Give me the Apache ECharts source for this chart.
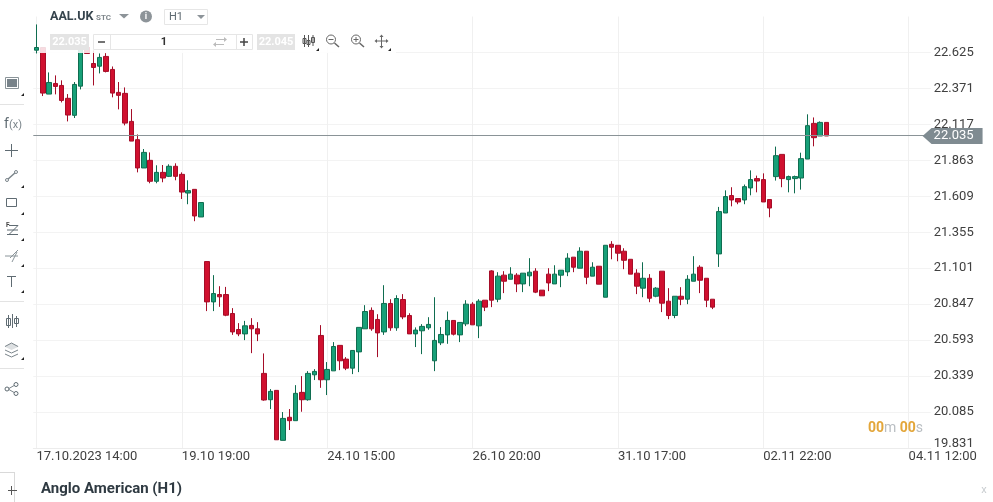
<!DOCTYPE html>
<html>
<head>
<meta charset="utf-8">
<style>html,body{margin:0;padding:0;background:#fff}#chart{width:993px;height:502px}</style>
<script src="https://cdn.jsdelivr.net/npm/echarts@6/dist/echarts.min.js"></script>
</head>
<body>
<div id="chart"></div>
<script>
var tickLabels = ['17.10.2023 14:00', '19.10 19:00', '24.10 15:00', '26.10 20:00', '31.10 17:00', '02.11 22:00', '04.11 12:00']
var yTicks = [19.831, 20.085, 20.339, 20.593, 20.847, 21.101, 21.355, 21.609, 21.863, 22.117, 22.371, 22.625]
var lastPrice = 22.035

var opens = [22.641, 22.660, 22.331, 22.406, 22.392, 22.301, 22.181, 22.387, 22.682, 22.547,
    22.528, 22.597, 22.505, 22.343, 22.336, 22.138, 22.009, 21.809, 21.863, 21.715,
    21.778, 21.750, 21.821, 21.764, 21.632, 21.658, 21.463, 21.148, 20.863, 20.915,
    20.915, 20.781, 20.668, 20.637, 20.697, 20.673, 20.358, 20.172, 20.238, 19.885,
    20.048, 20.024, 20.224, 20.172, 20.348, 20.626, 20.313, 20.376, 20.556, 20.459,
    20.395, 20.510, 20.673, 20.803, 20.739, 20.651, 20.852, 20.680, 20.880, 20.767,
    20.637, 20.659, 20.680, 20.447, 20.574, 20.630, 20.732, 20.630, 20.708, 20.847,
    20.694, 20.875, 21.082, 20.882, 21.052, 21.023, 21.052, 20.990, 21.047, 21.080,
    20.946, 21.059, 20.990, 21.052, 21.075, 21.179, 21.101, 21.221, 21.045, 21.115,
    20.896, 21.270, 21.263, 21.221, 21.164, 21.066, 20.960, 21.030, 20.903, 21.080,
    20.868, 20.767, 20.903, 20.882, 21.009, 21.108, 21.030, 20.882, 21.202, 21.491,
    21.614, 21.593, 21.583, 21.668, 21.734, 21.727, 21.586, 21.748, 21.905, 21.727,
    21.734, 21.738, 21.872, 22.124, 22.035, 22.131]
var closes = [22.660, 22.338, 22.413, 22.385, 22.286, 22.183, 22.399, 22.660, 22.618, 22.519,
    22.590, 22.491, 22.338, 22.322, 22.126, 21.999, 21.809, 21.919, 21.715, 21.778,
    21.738, 21.821, 21.750, 21.639, 21.649, 21.470, 21.565, 20.863, 20.922, 20.899,
    20.769, 20.651, 20.637, 20.694, 20.673, 20.637, 20.170, 20.231, 19.889, 20.040,
    20.024, 20.217, 20.172, 20.358, 20.372, 20.313, 20.386, 20.548, 20.447, 20.395,
    20.520, 20.683, 20.795, 20.673, 20.644, 20.852, 20.680, 20.887, 20.757, 20.637,
    20.664, 20.690, 20.704, 20.591, 20.633, 20.732, 20.635, 20.718, 20.847, 20.701,
    20.868, 20.826, 20.875, 21.045, 21.009, 21.059, 20.990, 21.066, 21.073, 20.932,
    20.906, 20.997, 21.059, 21.087, 21.172, 21.108, 21.221, 21.037, 21.108, 20.988,
    21.263, 21.249, 21.207, 21.157, 21.059, 20.974, 21.030, 20.889, 20.960, 20.854,
    20.767, 20.903, 20.882, 21.023, 21.059, 21.016, 20.875, 20.826, 21.501, 21.607,
    21.583, 21.569, 21.677, 21.727, 21.717, 21.569, 21.526, 21.896, 21.734, 21.748,
    21.748, 21.875, 22.108, 22.023, 22.131, 22.035]
var lows = [22.618, 22.317, 22.331, 22.329, 22.272, 22.138, 22.162, 22.364, 22.618, 22.392,
    22.477, 22.484, 22.308, 22.223, 22.110, 21.999, 21.778, 21.809, 21.701, 21.701,
    21.708, 21.745, 21.722, 21.590, 21.553, 21.433, 21.463, 20.798, 20.798, 20.828,
    20.762, 20.630, 20.621, 20.593, 20.501, 20.586, 20.165, 20.106, 19.889, 19.885,
    19.958, 20.024, 20.087, 20.165, 20.311, 20.256, 20.205, 20.376, 20.381, 20.381,
    20.353, 20.367, 20.673, 20.659, 20.473, 20.630, 20.659, 20.659, 20.741, 20.637,
    20.544, 20.494, 20.666, 20.374, 20.558, 20.567, 20.626, 20.579, 20.692, 20.701,
    20.607, 20.798, 20.826, 20.861, 20.925, 21.023, 20.932, 20.932, 20.974, 20.925,
    20.906, 20.939, 20.990, 20.967, 21.045, 21.073, 21.101, 20.988, 21.045, 20.988,
    20.896, 21.164, 21.150, 21.094, 21.059, 20.918, 20.896, 20.861, 20.896, 20.791,
    20.741, 20.748, 20.840, 20.847, 21.009, 20.925, 20.826, 20.812, 21.110, 21.491,
    21.538, 21.553, 21.553, 21.616, 21.637, 21.569, 21.461, 21.720, 21.673, 21.637,
    21.630, 21.656, 21.872, 21.962, 22.035, 22.035]
var highs = [22.823, 22.665, 22.484, 22.463, 22.428, 22.331, 22.416, 22.724, 22.710, 22.639,
    22.618, 22.620, 22.526, 22.416, 22.378, 22.225, 22.046, 21.943, 21.919, 21.828,
    21.830, 21.835, 21.842, 21.778, 21.722, 21.658, 21.565, 21.148, 21.052, 20.974,
    20.969, 20.819, 20.713, 20.729, 20.748, 20.720, 20.499, 20.247, 20.238, 20.085,
    20.106, 20.275, 20.339, 20.374, 20.388, 20.699, 20.438, 20.579, 20.556, 20.473,
    20.520, 20.683, 20.840, 20.824, 20.776, 20.981, 20.882, 20.910, 20.918, 20.783,
    20.683, 20.706, 20.755, 20.896, 20.685, 20.795, 20.732, 20.718, 20.875, 20.861,
    20.882, 20.875, 21.087, 21.073, 21.080, 21.108, 21.066, 21.066, 21.172, 21.101,
    20.946, 21.101, 21.122, 21.087, 21.207, 21.179, 21.249, 21.221, 21.143, 21.115,
    21.263, 21.292, 21.263, 21.242, 21.164, 21.094, 21.143, 21.059, 20.967, 21.080,
    20.960, 20.903, 20.967, 21.052, 21.186, 21.122, 21.030, 20.882, 21.534, 21.651,
    21.673, 21.593, 21.692, 21.792, 21.755, 21.771, 21.586, 21.960, 21.905, 21.755,
    21.755, 21.917, 22.188, 22.166, 22.138, 22.131]

var slots = 142
var tickStep = 23

var categories = []
for (var i = 0; i < slots; i++) {
    categories.push(i % tickStep === 0 ? tickLabels[i / tickStep] : String(i))
}
var candles = []
for (var k = 0; k < opens.length; k++) {
    candles.push([opens[k], closes[k], lows[k], highs[k]])
}

// toolbar and side panel of the trading screen, nothing here is chart data
var ink = '#5f6b72'
var g = []
function rect (x, y, w, h, fill, stroke) {
    g.push({ type: 'rect', z: 100, shape: { x: x, y: y, width: w, height: h }, style: { fill: fill || 'none', stroke: stroke || null, lineWidth: 1 } })
}
function line (x1, y1, x2, y2, color, w) {
    g.push({ type: 'line', z: 101, shape: { x1: x1, y1: y1, x2: x2, y2: y2 }, style: { stroke: color || ink, lineWidth: w || 1 } })
}
function tri (points, color) {
    g.push({ type: 'polygon', z: 101, shape: { points: points }, style: { fill: color || '#222' } })
}
function circle (cx, cy, r, fill, stroke) {
    g.push({ type: 'circle', z: 101, shape: { cx: cx, cy: cy, r: r }, style: { fill: fill || 'none', stroke: stroke || null, lineWidth: 1 } })
}
function txt (x, y, s, size, color, weight, align) {
    g.push({ type: 'text', z: 102, x: x, y: y, style: { text: s, fontFamily: 'Roboto', fontSize: size, fill: color, fontWeight: weight || 'normal', align: align || 'left', verticalAlign: 'middle' } })
}
function corner (x, y) {
    tri([[x, y + 3], [x + 3, y], [x + 3, y + 3]])
}

// covers
rect(0, 0, 32, 472, '#fff')
rect(40, 0, 356, 47, '#fff')
rect(40, 47, 356, 6, 'rgba(255,255,255,0.85)')
rect(0, 472, 993, 30, '#fff')

// top row
txt(50, 17, 'AAL.UK', 12.5, '#36444d', 'bold')
txt(96, 17.5, 'STC', 8, '#7f878c', 'bold')
tri([[119, 14], [129, 14], [124, 18.5]], '#8d9499')
circle(146, 16.5, 6, '#8d9499')
txt(146, 17, 'i', 9, '#fff', 'bold', 'center')
rect(164.5, 9.5, 43, 15, '#fff', '#e6e6e6')
txt(169, 17.5, 'H1', 11, '#5f6b72')
tri([[197, 15], [205, 15], [201, 19]], '#8d9499')

// order row
rect(50, 34, 39, 16, '#e4e4e4')
txt(69.5, 42, '22.035', 11, '#fff', 'bold', 'center')
rect(93.5, 34.5, 159, 15, '#fff', '#e6e6e6')
line(110.5, 35, 110.5, 49, '#e6e6e6')
line(236.5, 35, 236.5, 49, '#e6e6e6')
line(98, 42, 105, 42, '#444', 1.5)
txt(164, 42, '1', 11, '#333', 'bold', 'center')
line(240, 42, 248, 42, '#444', 1.5)
line(244, 38, 244, 46, '#444', 1.5)
line(216, 39.5, 224, 39.5, '#bbb')
line(216, 44.5, 224, 44.5, '#bbb')
tri([[224, 37], [224, 42], [227, 39.5]], '#bbb')
tri([[216, 42], [216, 47], [213, 44.5]], '#bbb')
rect(257, 34, 38, 16, '#e4e4e4')
txt(276, 42, '22.045', 11, '#fff', 'bold', 'center')

// chart tools
line(304.5, 35, 304.5, 47, '#555')
rect(303, 38.5, 3, 5, '#fff', '#555')
line(308.5, 35, 308.5, 47, '#555')
rect(307, 40.5, 3, 4, '#fff', '#555')
line(313, 35, 313, 46, '#555')
rect(311.5, 37.5, 3, 5, '#fff', '#555')
corner(316, 48)
circle(331, 39.5, 4.5, null, '#666')
line(328.5, 39.5, 333.5, 39.5, '#666')
line(334.5, 43, 339, 47, '#666', 1.5)
circle(356, 39.5, 4.5, null, '#666')
line(353.5, 39.5, 358.5, 39.5, '#666')
line(356, 37, 356, 42, '#666')
line(359.5, 43, 364, 47, '#666', 1.5)
line(376, 41, 387, 41, '#666')
line(381.5, 36, 381.5, 47, '#666')
tri([[381.5, 34.5], [379.5, 37], [383.5, 37]], '#666')
tri([[381.5, 48.5], [379.5, 46], [383.5, 46]], '#666')
tri([[374.5, 41], [377, 39], [377, 43]], '#666')
tri([[388.5, 41], [386, 39], [386, 43]], '#666')
corner(388, 48)

// left panel
line(0, 104.5, 24, 104.5, '#e3e3e3')
line(0, 301.5, 24, 301.5, '#e3e3e3')
line(0, 368.5, 24, 368.5, '#e3e3e3')
rect(5.5, 77.5, 13, 11, '#fff', '#8a9499')
rect(7, 79, 10, 8, '#78838a')
corner(21, 93)
txt(4, 124, 'f', 14, '#5f6b72')
txt(9, 125, '(x)', 11, '#7b858b')
line(5, 150.5, 18, 150.5)
line(11.5, 144, 11.5, 157)
line(7, 180, 16, 172, '#7b858b', 1.5)
circle(7, 180, 1.5, '#fff', '#7b858b')
circle(16, 172, 1.5, '#fff', '#7b858b')
corner(21, 185)
rect(6.5, 198.5, 10, 8, null, '#5f6b72')
corner(21, 212)
txt(6, 225, 'F', 6.5, '#444', 'bold')
line(9, 225.5, 18, 225.5)
line(7, 230, 18, 230)
line(7, 234.5, 18, 234.5)
line(9, 234.5, 18, 225.5)
corner(21, 238)
line(5, 256, 18, 256, '#8a9499')
line(10, 258, 18, 250, '#8a9499')
line(12, 262, 17, 252, '#8a9499')
corner(21, 264)
line(7, 276.5, 16, 276.5)
line(11.5, 276.5, 11.5, 287)
corner(21, 290)
line(8.5, 315, 8.5, 328)
rect(6.5, 318.5, 4, 7, '#fff', '#5f6b72')
line(12.5, 314, 12.5, 328)
line(16.5, 316, 16.5, 327)
rect(14.5, 318.5, 4, 5, '#fff', '#5f6b72')
tri([[11.5, 343], [19, 346.5], [11.5, 350], [4.5, 346.5]], '#dde0e2')
line(5, 350, 11.5, 353, '#7b858b')
line(11.5, 353, 18, 350, '#7b858b')
line(5, 354, 11.5, 357, '#7b858b')
line(11.5, 357, 18, 354, '#7b858b')
line(5, 346.5, 11.5, 343, '#7b858b')
line(11.5, 343, 18, 346.5, '#7b858b')
corner(21, 357)
line(8, 389, 15, 385, '#7b858b')
line(8, 389, 15, 393, '#7b858b')
circle(7, 389, 2, '#fff', '#5f6b72')
circle(16, 384.5, 2, '#fff', '#5f6b72')
circle(16, 393.5, 2, '#fff', '#5f6b72')

// bottom bar
line(0, 472.5, 15, 472.5, '#d9d9d9')
line(14.5, 472, 14.5, 502, '#d9d9d9')
line(8, 490.5, 17, 490.5, '#555')
line(11.5, 486, 11.5, 495, '#555')
txt(41, 489.5, 'Anglo American (H1)', 15, '#2f3a42', 'bold')
txt(984, 490, 'x', 11, '#c9cdd0', 'normal', 'center')

// countdown
g.push({
    type: 'text',
    z: 102,
    x: 868,
    y: 428,
    style: {
        text: '{a|00}{b|m} {a|00}{b|s}',
        verticalAlign: 'middle',
        rich: {
            a: { fontFamily: 'Roboto', fontSize: 14, fontWeight: 'bold', fill: '#e3a63a', color: '#e3a63a' },
            b: { fontFamily: 'Roboto', fontSize: 14, fill: '#b9bec2', color: '#b9bec2' }
        }
    }
})

var myChart = echarts.init(document.getElementById('chart'), null, { renderer: 'canvas' })
var option = {
    animation: false,
    backgroundColor: '#fff',
    grid: { left: 33.3, top: 16.5, width: 897.44, height: 431.5, containLabel: false },
    xAxis: {
        type: 'category',
        data: categories,
        boundaryGap: true,
        axisLine: { show: true, lineStyle: { color: '#ececec' } },
        axisTick: { show: false, interval: tickStep - 1, alignWithLabel: true },
        axisLabel: {
            interval: tickStep - 1,
            align: 'left',
            margin: 2,
            fontFamily: 'Roboto',
            fontSize: 13,
            color: '#404040'
        },
        splitLine: { show: true, interval: tickStep - 1, alignWithLabel: true, lineStyle: { color: '#f0f0f0' } }
    },
    yAxis: {
        type: 'value',
        position: 'right',
        min: 19.831,
        max: 22.879,
        scale: true,
        axisLine: { show: false },
        axisTick: { show: false, customValues: yTicks },
        axisLabel: {
            customValues: yTicks,
            formatter: function (v) { return v.toFixed(3) },
            margin: 3,
            fontFamily: 'Roboto',
            fontSize: 13,
            color: '#404040',
            lineHeight: 9,
            verticalAlignMinLabel: 'bottom'
        },
        splitLine: { show: true, lineStyle: { color: '#f3f3f3' } }
    },
    series: [{
        type: 'candlestick',
        data: candles,
        barWidth: 5,
        clip: false,
        itemStyle: {
            color: '#17a078',
            color0: '#d0102f',
            borderColor: '#0f6d50',
            borderColor0: '#a50d28',
            borderWidth: 1
        },
        markLine: {
            silent: true,
            symbol: 'none',
            animation: false,
            label: { show: false },
            lineStyle: { color: '#8a9397', width: 1, type: 'solid' },
            data: [{ yAxis: lastPrice }]
        },
        markPoint: {
            silent: true,
            animation: false,
            data: [{
                coord: [141, lastPrice],
                symbol: 'path://M0 8 L9 0 H60 V16 H9 Z',
                symbolSize: [60, 16],
                symbolKeepAspect: false,
                symbolOffset: [25, 0],
                itemStyle: { color: '#7f8b91' },
                label: { show: true, position: 'inside', formatter: lastPrice.toFixed(3), color: '#fff', fontFamily: 'Roboto', fontSize: 13, offset: [1, 0] }
            }]
        }
    }],
    graphic: { elements: g }
}
myChart.setOption(option)
</script>
</body>
</html>
